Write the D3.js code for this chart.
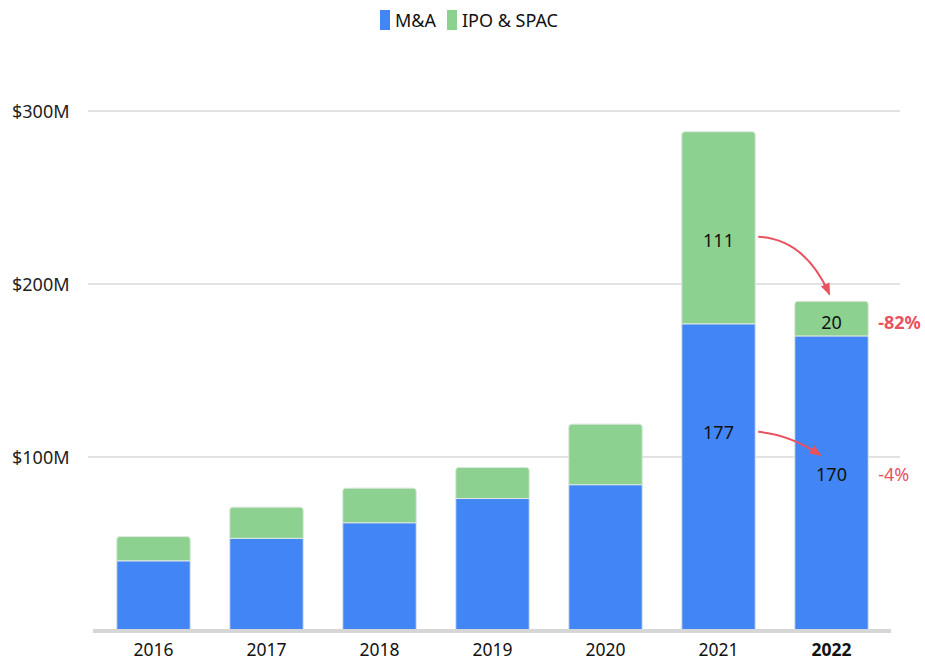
<!DOCTYPE html>
<html>
<head>
<meta charset="utf-8">
<script src="https://cdn.jsdelivr.net/npm/d3@7"></script>
<style>
  body { margin: 0; background: #fff; }
  svg { font-family: "Noto Sans", sans-serif; }
</style>
</head>
<body>
<svg id="chart" width="925" height="660"></svg>
<script>
// chart data
const years = ["2016", "2017", "2018", "2019", "2020", "2021", "2022"];
const mna = [40, 53, 62, 76, 84, 177, 170];
const ipoSpac = [14, 18, 20, 18, 35, 111, 20];
const yTicks = [100, 300, 200];
const seriesNames = ["M&A", "IPO & SPAC"];
const seriesColors = ["#4285f4", "#8cd190"];
// labelled bars: value shown and the value level where it sits
const labelYears = ["2021", "2021", "2022", "2022"];
const labelSeries = [1, 0, 1, 0];
const labelLevel = [225, 114, 177.5, 90];
// change annotations next to 2022
const changeText = ["-82%", "-4%"];
const changeLevel = [177.5, 90];
const changeBold = [true, false];

const svg = d3.select("#chart");

const x = d3.scaleBand()
  .domain(years)
  .range([97, 888])
  .paddingInner(0.35)
  .paddingOuter(0.175);

const y = d3.scaleLinear()
  .domain([0, 300])
  .range([630, 111]);

const red = "#e9525f";

// grid lines
svg.selectAll(".grid")
  .data(yTicks).enter()
  .append("line")
  .attr("x1", 88).attr("x2", 900)
  .attr("y1", d => y(d)).attr("y2", d => y(d))
  .attr("stroke", "#e2e2e2")
  .attr("stroke-width", 2);

svg.selectAll(".ylab")
  .data(yTicks).enter()
  .append("text")
  .attr("x", 12)
  .attr("y", d => y(d) + 6.5)
  .text(d => "$" + d + "M")
  .style("font-size", "18px")
  .attr("fill", "#222");

// stacked data
const rows = years.map((yr, i) => ({ year: yr, mna: mna[i], ipo: ipoSpac[i] }));
const stack = d3.stack().keys(["mna", "ipo"])(rows);

const bw = x.bandwidth();

// M&A segments
svg.selectAll(".mna")
  .data(stack[0]).enter()
  .append("rect")
  .attr("x", d => x(d.data.year))
  .attr("y", d => y(d[1]))
  .attr("width", bw)
  .attr("height", d => y(d[0]) - y(d[1]))
  .attr("fill", seriesColors[0])
  .attr("stroke", "#dfe4ee")
  .attr("stroke-width", 1);

// IPO & SPAC segments, rounded top
function topRounded(x0, y0, w, h, r) {
  return `M${x0},${y0 + h} V${y0 + r} Q${x0},${y0} ${x0 + r},${y0} H${x0 + w - r} Q${x0 + w},${y0} ${x0 + w},${y0 + r} V${y0 + h} Z`;
}
svg.selectAll(".ipo")
  .data(stack[1]).enter()
  .append("path")
  .attr("d", d => topRounded(x(d.data.year), y(d[1]), bw, y(d[0]) - y(d[1]), 3))
  .attr("fill", seriesColors[1])
  .attr("stroke", "#dde8dd")
  .attr("stroke-width", 1);

// baseline
svg.append("line")
  .attr("x1", 93).attr("x2", 891)
  .attr("y1", y(0) + 1).attr("y2", y(0) + 1)
  .attr("stroke", "#d6d6d6")
  .attr("stroke-width", 4);

// x labels
svg.selectAll(".xlab")
  .data(years).enter()
  .append("text")
  .attr("x", d => x(d) + bw / 2)
  .attr("y", 656)
  .attr("text-anchor", "middle")
  .text(d => d)
  .style("font-size", "17.5px")
  .style("font-weight", d => d === "2022" ? "bold" : "normal")
  .attr("fill", "#111");

// value labels inside segments
const labels = labelYears.map((yr, i) => {
  const s = stack[labelSeries[i]][years.indexOf(yr)];
  return { year: yr, val: s[1] - s[0], level: labelLevel[i] };
});
svg.selectAll(".vlab")
  .data(labels).enter()
  .append("text")
  .attr("x", d => x(d.year) + bw / 2)
  .attr("y", d => y(d.level) + 6.5)
  .attr("text-anchor", "middle")
  .text(d => d.val)
  .style("font-size", "18px")
  .attr("fill", "#111");

// change annotations
svg.selectAll(".chg")
  .data(changeText).enter()
  .append("text")
  .attr("x", x("2022") + bw + 10)
  .attr("y", (d, i) => y(changeLevel[i]) + 6.5)
  .text(d => d)
  .style("font-size", "18px")
  .style("font-weight", (d, i) => changeBold[i] ? "bold" : "normal")
  .attr("fill", red);

// arrows from 2021 labels to 2022 labels
svg.append("defs").append("marker")
  .attr("id", "head")
  .attr("viewBox", "0 0 10 10")
  .attr("refX", 9).attr("refY", 5)
  .attr("markerWidth", 6).attr("markerHeight", 6)
  .attr("orient", "auto")
  .append("path")
  .attr("d", "M0,1 L10,5 L0,9 Z")
  .attr("fill", red);

const ax = x("2021") + bw + 3;
const arrows = [
  { from: [ax, y(labelLevel[0]) - 4], to: [x("2022") + bw / 2 - 2, y(190) - 7], ctrl: [805, y(226)] },
  { from: [ax, y(labelLevel[1]) - 1], to: [x("2022") + bw / 2 - 11, y(101)], ctrl: [790, y(113)] }
];
svg.selectAll(".arrow")
  .data(arrows).enter()
  .append("path")
  .attr("d", d => `M${d.from[0]},${d.from[1]} Q${d.ctrl[0]},${d.ctrl[1]} ${d.to[0]},${d.to[1]}`)
  .attr("fill", "none")
  .attr("stroke", red)
  .attr("stroke-width", 2)
  .attr("marker-end", "url(#head)");

// legend
const legend = svg.append("g");
const legX = [380, 447];
seriesNames.forEach((n, i) => {
  legend.append("rect")
    .attr("x", legX[i]).attr("y", 10)
    .attr("width", 10).attr("height", 20)
    .attr("fill", seriesColors[i]);
  legend.append("text")
    .attr("x", legX[i] + 15).attr("y", 27)
    .text(n)
    .style("font-size", "18px")
    .attr("fill", "#111");
});
</script>
</body>
</html>
